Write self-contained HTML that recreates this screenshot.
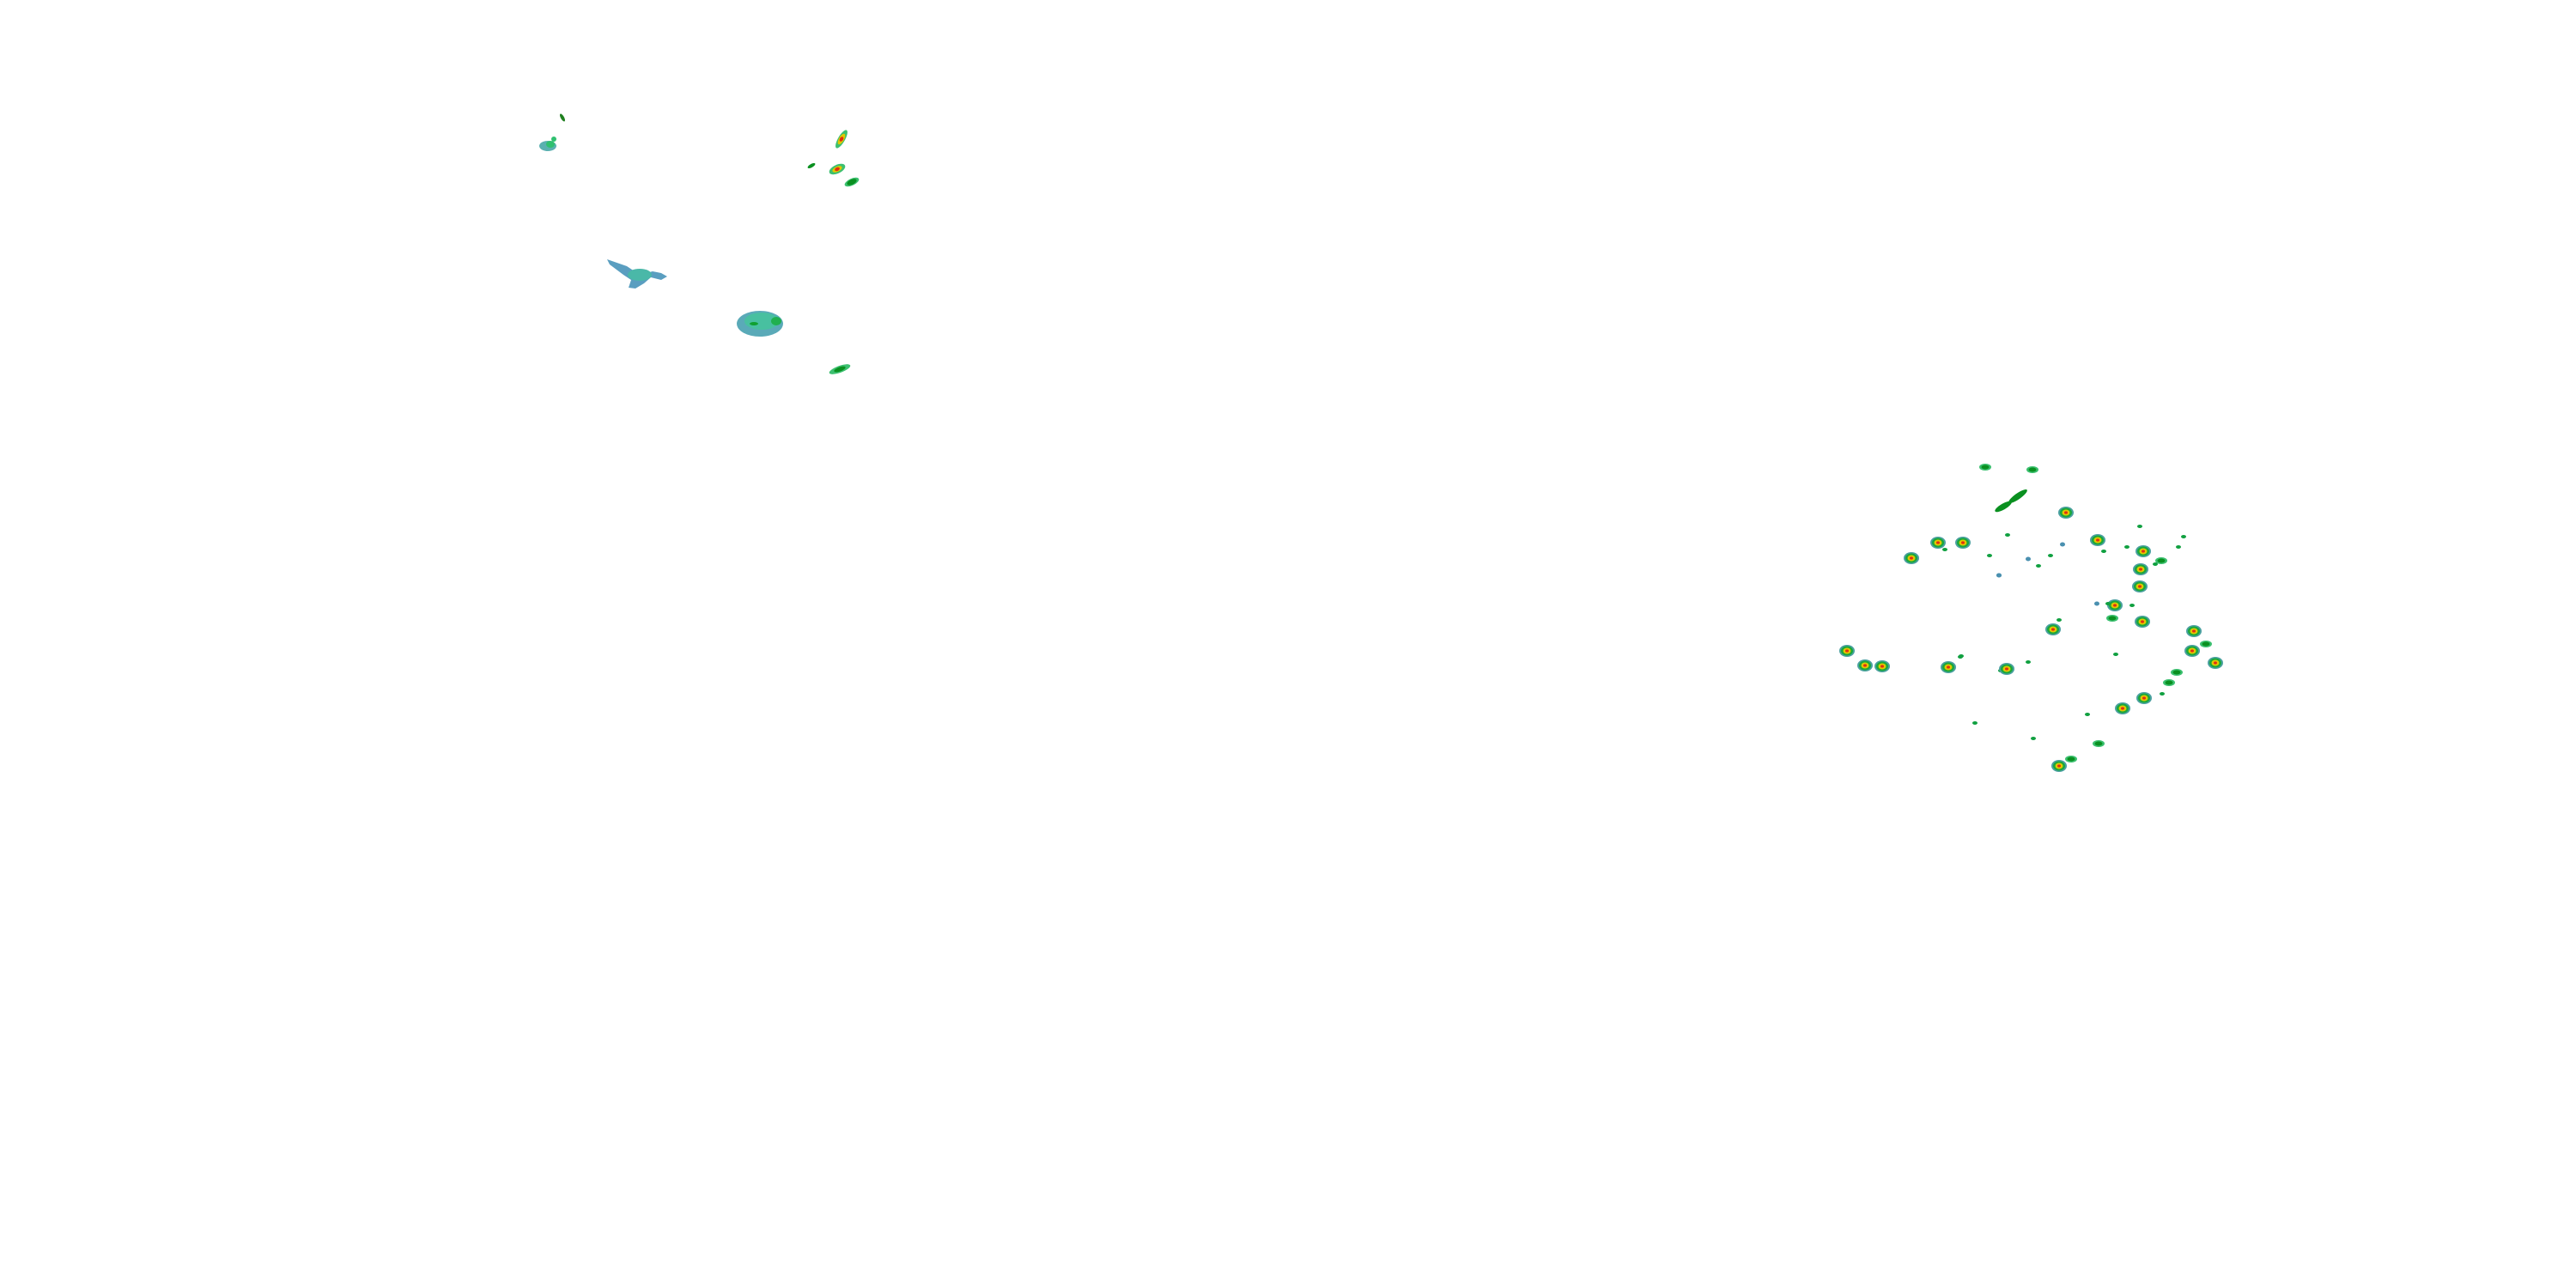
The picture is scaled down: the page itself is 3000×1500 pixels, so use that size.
<!DOCTYPE html>
<html><head><meta charset="utf-8"><style>html,body{margin:0;padding:0;background:#fff}svg{display:block}</style></head>
<body>
<svg width="3000" height="1500" viewBox="0 0 3000 1500" xmlns="http://www.w3.org/2000/svg">
<defs>
<g id="cell">
<ellipse cx="0" cy="0" rx="9" ry="7" fill="#4aa0a0"/>
<ellipse cx="0" cy="0" rx="7" ry="5.5" fill="#1aa83a"/>
<ellipse cx="0" cy="0" rx="4.5" ry="3.5" fill="#e0c800"/>
<ellipse cx="0" cy="0" rx="2" ry="1.6" fill="#e03010"/>
</g>
<g id="gcell">
<ellipse cx="0" cy="0" rx="7" ry="4" fill="#3cc070"/>
<ellipse cx="0" cy="0" rx="4.5" ry="2.5" fill="#0a9020"/>
</g>
<g id="dot">
<ellipse cx="0" cy="0" rx="3" ry="2" fill="#10a040"/>
</g>
<g id="bdot">
<ellipse cx="0" cy="0" rx="3" ry="2.5" fill="#4a90b0"/>
</g>
</defs>
<!-- left cluster -->
<ellipse cx="655" cy="137" rx="2" ry="5" fill="#208020" transform="rotate(-30 655 137)"/>
<ellipse cx="638" cy="170" rx="10" ry="6" fill="#5ab0b0"/>
<ellipse cx="641" cy="168" rx="5" ry="4" fill="#30c070"/>
<ellipse cx="645" cy="162" rx="3" ry="3" fill="#30c070"/>
<g transform="translate(980,162) rotate(-60)"><ellipse rx="12" ry="4" fill="#3cc070"/><ellipse rx="7" ry="3" fill="#e0c800"/><ellipse rx="3" ry="2" fill="#e03010"/></g>
<g transform="translate(945,193) rotate(-30)"><ellipse rx="5" ry="2" fill="#0a9020"/></g>
<g transform="translate(975,197) rotate(-25)"><ellipse rx="10" ry="5" fill="#3cc070"/><ellipse rx="6" ry="3" fill="#e0c800"/><ellipse rx="3" ry="2" fill="#e03010"/></g>
<g transform="translate(992,212) rotate(-25)"><ellipse rx="9" ry="4" fill="#3cc070"/><ellipse rx="6" ry="3" fill="#0a9020"/></g>
<!-- bird blob -->
<path d="M707,302 L730,310 L745,320 L760,316 L770,318 L777,322 L770,326 L758,323 L750,330 L740,336 L732,335 L735,326 L726,320 L710,308 Z" fill="#5a9ec0"/>
<ellipse cx="745" cy="320" rx="14" ry="7" fill="#4ab8a8"/>
<!-- round blob -->
<ellipse cx="885" cy="377" rx="27" ry="15" fill="#5aaab8"/>
<ellipse cx="887" cy="374" rx="20" ry="10" fill="#48c0a0"/>
<ellipse cx="904" cy="374" rx="6" ry="5" fill="#20b050"/>
<ellipse cx="878" cy="377" rx="5" ry="2" fill="#10a030"/>
<g transform="translate(978,430) rotate(-20)"><ellipse rx="13" ry="4" fill="#3cc070"/><ellipse rx="7" ry="2.5" fill="#0a9020"/></g>
<!-- right cluster -->
<use href="#gcell" x="2312" y="544"/>
<use href="#gcell" x="2367" y="547"/>
<g transform="translate(2350,578) rotate(-35)"><ellipse rx="13" ry="3.5" fill="#0a9020"/></g>
<g transform="translate(2333,590) rotate(-30)"><ellipse rx="11" ry="3.5" fill="#0a9020"/></g>
<use href="#cell" x="2406" y="597"/>
<use href="#cell" x="2257" y="632"/>
<use href="#cell" x="2286" y="632"/>
<use href="#cell" x="2226" y="650"/>
<use href="#dot" x="2338" y="623"/>
<use href="#cell" x="2443" y="629"/>
<use href="#cell" x="2496" y="642"/>
<use href="#cell" x="2493" y="663"/>
<use href="#gcell" x="2517" y="653"/>
<use href="#cell" x="2492" y="683"/>
<use href="#cell" x="2463" y="705"/>
<use href="#gcell" x="2460" y="720"/>
<use href="#cell" x="2495" y="724"/>
<use href="#cell" x="2391" y="733"/>
<use href="#cell" x="2555" y="735"/>
<use href="#cell" x="2553" y="758"/>
<use href="#gcell" x="2569" y="750"/>
<use href="#cell" x="2580" y="772"/>
<use href="#cell" x="2151" y="758"/>
<use href="#cell" x="2172" y="775"/>
<use href="#cell" x="2192" y="776"/>
<use href="#cell" x="2269" y="777"/>
<use href="#gcell" x="2535" y="783"/>
<use href="#gcell" x="2526" y="795"/>
<use href="#cell" x="2497" y="813"/>
<use href="#cell" x="2472" y="825"/>
<use href="#gcell" x="2412" y="884"/>
<use href="#cell" x="2398" y="892"/>
<use href="#gcell" x="2444" y="866"/>
<use href="#dot" x="2330" y="781"/>
<use href="#cell" x="2337" y="779"/>
<use href="#dot" x="2283" y="765"/>
<use href="#dot" x="2362" y="771"/>
<use href="#dot" x="2464" y="762"/>
<use href="#dot" x="2300" y="842"/>
<use href="#dot" x="2368" y="860"/>
<use href="#dot" x="2431" y="832"/>
<use href="#dot" x="2518" y="808"/>
<use href="#dot" x="2398" y="722"/>
<use href="#bdot" x="2442" y="703"/>
<use href="#dot" x="2455" y="703"/>
<use href="#bdot" x="2328" y="670"/>
<use href="#bdot" x="2362" y="651"/>
<use href="#bdot" x="2402" y="634"/>
<use href="#dot" x="2388" y="647"/>
<use href="#dot" x="2317" y="647"/>
<use href="#bdot" x="2328" y="670"/>
<use href="#dot" x="2374" y="659"/>
<use href="#dot" x="2450" y="642"/>
<use href="#dot" x="2477" y="637"/>
<use href="#dot" x="2492" y="613"/>
<use href="#dot" x="2537" y="637"/>
<use href="#dot" x="2543" y="625"/>
<use href="#dot" x="2510" y="657"/>
<use href="#dot" x="2483" y="705"/>
<use href="#dot" x="2265" y="640"/>
<use href="#dot" x="2284" y="764"/>
</svg>
</body></html>
